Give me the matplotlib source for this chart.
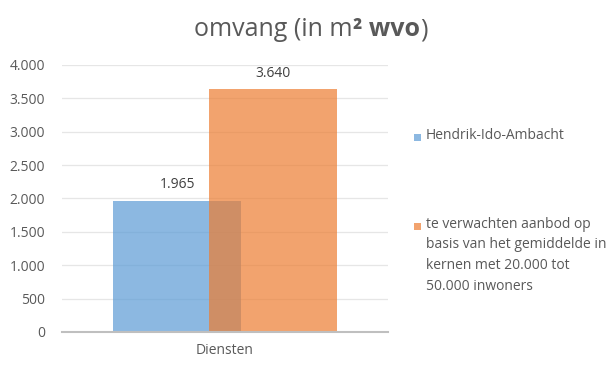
import matplotlib
matplotlib.use('Agg')
import matplotlib.pyplot as plt
from matplotlib.ticker import FuncFormatter
from matplotlib.patches import Rectangle

plt.rcParams['font.family'] = ['Open Sans', 'DejaVu Sans']

# Data
categorie = ['Diensten']
reeksen = ['Hendrik-Ido-Ambacht',
           'te verwachten aanbod op\nbasis van het gemiddelde in\nkernen met 20.000 tot\n50.000 inwoners']
waarden = [1965, 3640]
kleuren = ['#5B9BD5', '#ED7D31']

grijs = '#595959'

def nl(v, pos=None):
    return f"{v:,.0f}".replace(',', '.')

fig = plt.figure(figsize=(6.08, 3.66), dpi=100)
ax = fig.add_axes([0.102, 0.093, 0.536, 0.7295])

breedte = 0.393
offsets = [-0.147, 0.147]
for w, c, off in zip(waarden, kleuren, offsets):
    ax.bar(0 + off, w, width=breedte, color=c, alpha=0.7, zorder=2)
    ax.annotate(nl(w), (0 + off, w), xytext=(0, 6), textcoords='offset points',
                ha='center', va='bottom', fontsize=10, color='#404040')

ax.set_xlim(-0.5, 0.5)
ax.set_ylim(0, 4000)
ax.set_yticks(range(0, 4001, 500))
ax.yaxis.set_major_formatter(FuncFormatter(nl))
ax.set_xticks([0])
ax.set_xticklabels(categorie)
ax.tick_params(length=0, labelsize=10, colors=grijs)
ax.tick_params(axis='x', pad=8)
ax.tick_params(axis='y', pad=12)
ax.grid(axis='y', color='#E6E6E6', linewidth=0.9, zorder=0)
for s in ['top', 'right', 'left']:
    ax.spines[s].set_visible(False)
ax.spines['bottom'].set_color('#BFBFBF')
ax.spines['bottom'].set_linewidth(1.5)

# Titel, deels vet
renderer = fig.canvas.get_renderer()
delen = [('omvang (in m', 'normal'), ('² wvo', 'bold'), (')', 'normal')]
breedtes = []
for t, fw in delen:
    tx = fig.text(0, 0, t, fontsize=18, fontweight=fw, color=grijs)
    breedtes.append(tx.get_window_extent(renderer).width)
    tx.remove()
x = 311 - sum(breedtes) / 2
for (t, fw), wpx in zip(delen, breedtes):
    fig.text(x / 608, 1 - 30 / 366, t, fontsize=18, fontweight=fw, color=grijs,
             va='center', ha='left')
    x += wpx

# Legenda
legend_y = [137, 226]
for lab, c, yy in zip(reeksen, kleuren, legend_y):
    fig.patches.append(Rectangle(((417 - 3.5) / 608, 1 - (yy + 3.5) / 366), 7 / 608, 7 / 366,
                                 transform=fig.transFigure, facecolor=c, alpha=0.7,
                                 edgecolor='none'))
    fig.text(426 / 608, 1 - (yy - 9) / 366, lab, fontsize=10, color=grijs,
             va='top', ha='left', linespacing=1.5)

fig.savefig('out.png', dpi=100)
